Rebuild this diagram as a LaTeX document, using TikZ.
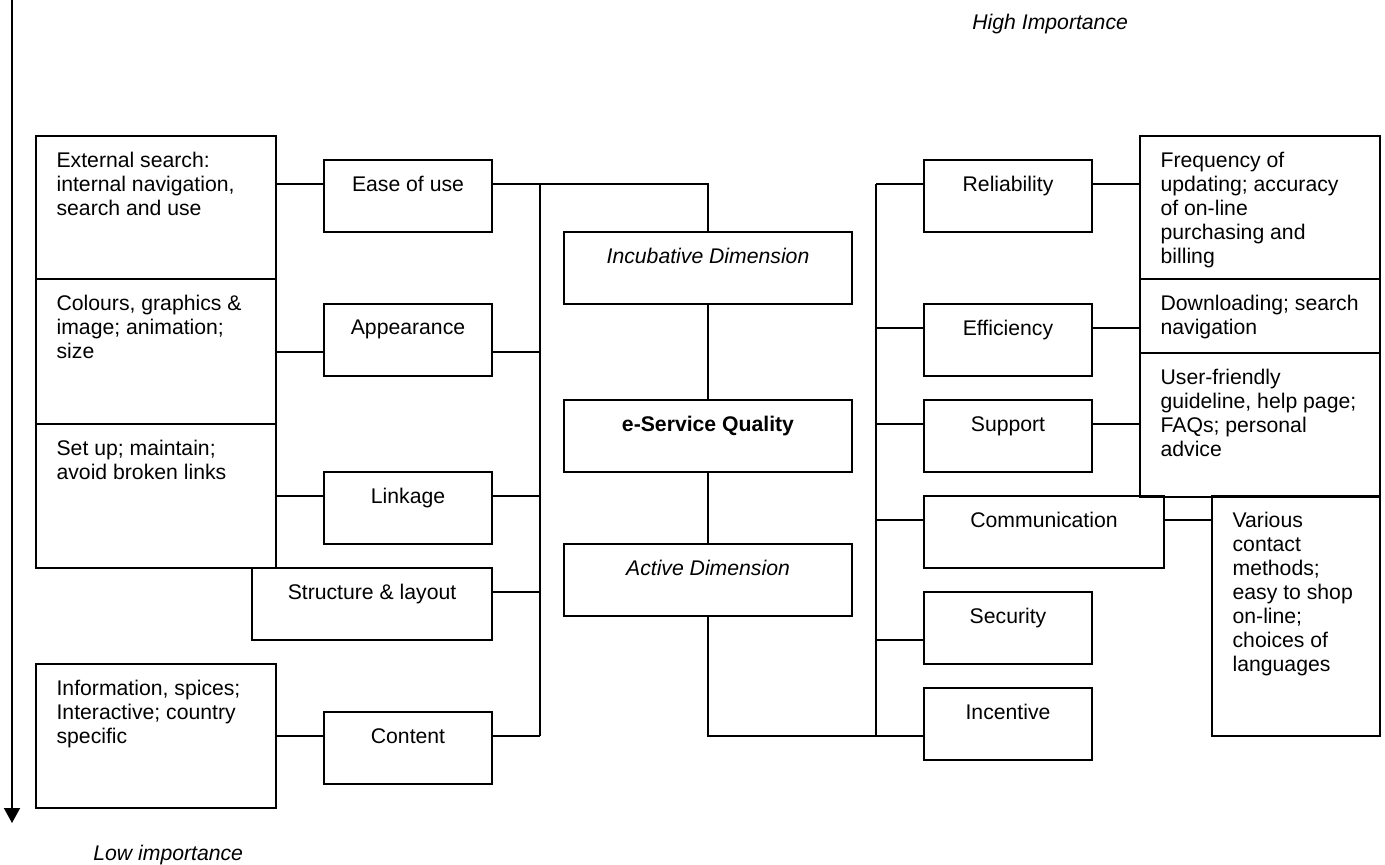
\documentclass[tikz,border=0pt]{standalone}
\usepackage{fontspec}
\setmainfont{Liberation Sans}
\usetikzlibrary{arrows.meta}

\newcommand{\diagfont}{\fontsize{10.6pt}{12pt}\selectfont}

\tikzset{
  plainbox/.style={draw, line width=0.8pt, inner sep=0pt},
  midbox/.style={plainbox, minimum width=84pt, minimum height=36pt},
  widebox/.style={plainbox, minimum width=120pt, minimum height=36pt},
  corebox/.style={plainbox, minimum width=144pt, minimum height=36pt},
  descbox/.style={plainbox, minimum width=120pt},
  boxhead/.style={anchor=north, inner sep=0pt, yshift=-8.3pt},
  boxtext/.style={anchor=north west, align=left, inner sep=0pt, xshift=10.5pt, yshift=-8.3pt},
  conn/.style={line width=0.8pt},
}

\begin{document}
\begin{tikzpicture}[x=0.5pt, y=-0.5pt, font=\diagfont]
\useasboundingbox (0,0) rectangle (1385,865);

% importance axis
\coordinate (axtop) at (12,0);
\coordinate (axbot) at (12,823);
\draw[conn, -{Triangle[length=7.5pt, width=8pt]}] (axtop) -- (axbot);
\node[inner sep=0pt, anchor=base west, font=\diagfont\itshape] (high) at (972,30) {High Importance};
\node[inner sep=0pt, anchor=base west, font=\diagfont\itshape] (low) at (93,860) {Low importance};

% incubative side
\node[descbox, minimum height=71.5pt, label={[boxtext]north west:{External search:\\internal navigation,\\search and use}}] (ext) at (156,207.5) {};
\node[descbox, minimum height=72.5pt, label={[boxtext]north west:{Colours, graphics \&\\image; animation;\\size}}] (col) at (156,351.5) {};
\node[descbox, minimum height=72pt, label={[boxtext]north west:{Set up; maintain;\\avoid broken links}}] (set) at (156,496) {};
\node[descbox, minimum height=72pt, label={[boxtext]north west:{Information, spices;\\Interactive; country\\specific}}] (inf) at (156,736) {};

\node[midbox, label={[boxhead]north:Ease of use}] (eou) at (408,196) {};
\node[midbox, label={[boxhead]north:Appearance}] (app) at (408,340) {};
\node[midbox, label={[boxhead]north:Linkage}] (lnk) at (408,508) {};
\node[widebox, label={[boxhead]north:Structure \& layout}] (str) at (372,604) {};
\node[midbox, label={[boxhead]north:Content}] (con) at (408,748) {};

% core
\node[corebox, label={[boxhead, font=\diagfont\itshape]north:Incubative Dimension}] (inc) at (708,268) {};
\node[corebox, label={[boxhead, font=\diagfont\bfseries]north:e-Service Quality}] (esq) at (708,436) {};
\node[corebox, label={[boxhead, font=\diagfont\itshape]north:Active Dimension}] (act) at (708,580) {};

% active side
\node[midbox, label={[boxhead]north:Reliability}] (rel) at (1008,196) {};
\node[midbox, label={[boxhead]north:Efficiency}] (eff) at (1008,340) {};
\node[midbox, label={[boxhead]north:Support}] (sup) at (1008,436) {};
\node[widebox, label={[boxhead]north:Communication}] (com) at (1044,532) {};
\node[midbox, label={[boxhead]north:Security}] (sec) at (1008,628) {};
\node[midbox, label={[boxhead]north:Incentive}] (incn) at (1008,724) {};

\node[descbox, minimum height=71.5pt, label={[boxtext]north west:{Frequency of\\updating; accuracy\\of on-line\\purchasing and\\billing}}] (freq) at (1260,207.5) {};
\node[descbox, minimum height=37pt, label={[boxtext]north west:{Downloading; search\\navigation}}] (dwn) at (1260,316) {};
\node[descbox, minimum height=72pt, label={[boxtext]north west:{User-friendly\\guideline, help page;\\FAQs; personal\\advice}}] (usr) at (1260,425) {};
\node[plainbox, minimum width=84pt, minimum height=120pt, label={[boxtext]north west:{Various\\contact\\methods;\\easy to shop\\on-line;\\choices of\\languages}}] (var) at (1296,616) {};

% buses
\coordinate (lbus) at (540,0);
\coordinate (rbus) at (876,0);

\foreach \d/\m/\s in {ext/eou/6pt, col/app/-6pt, set/lnk/6pt, inf/con/6pt}
  \draw[conn] ([yshift=\s]\m.west) coordinate (t) -- (t -| \d.east);
\foreach \m/\s in {eou/6pt, app/-6pt, lnk/6pt, str/6pt, con/6pt}
  \draw[conn] ([yshift=\s]\m.east) coordinate (\m-r) -- (\m-r -| lbus);
\draw[conn] (eou-r -| lbus) -- (con-r -| lbus);
\draw[conn] (eou-r -| lbus) -| (inc.north);
\draw[conn] (inc.south) -- (esq.north);
\draw[conn] (esq.south) -- (act.north);

\foreach \m/\s in {rel/6pt, eff/6pt, sup/6pt, com/6pt, sec/-6pt, incn/-6pt}
  \draw[conn] ([yshift=\s]\m.west) coordinate (\m-l) -- (\m-l -| rbus);
\draw[conn] (rel-l -| rbus) -- (incn-l -| rbus);
\draw[conn] (act.south) |- (incn-l);
\foreach \m/\d in {rel/freq, eff/dwn, sup/usr, com/var}
  \draw[conn] ([yshift=6pt]\m.east) coordinate (t) -- (t -| \d.west);
\end{tikzpicture}
\end{document}
